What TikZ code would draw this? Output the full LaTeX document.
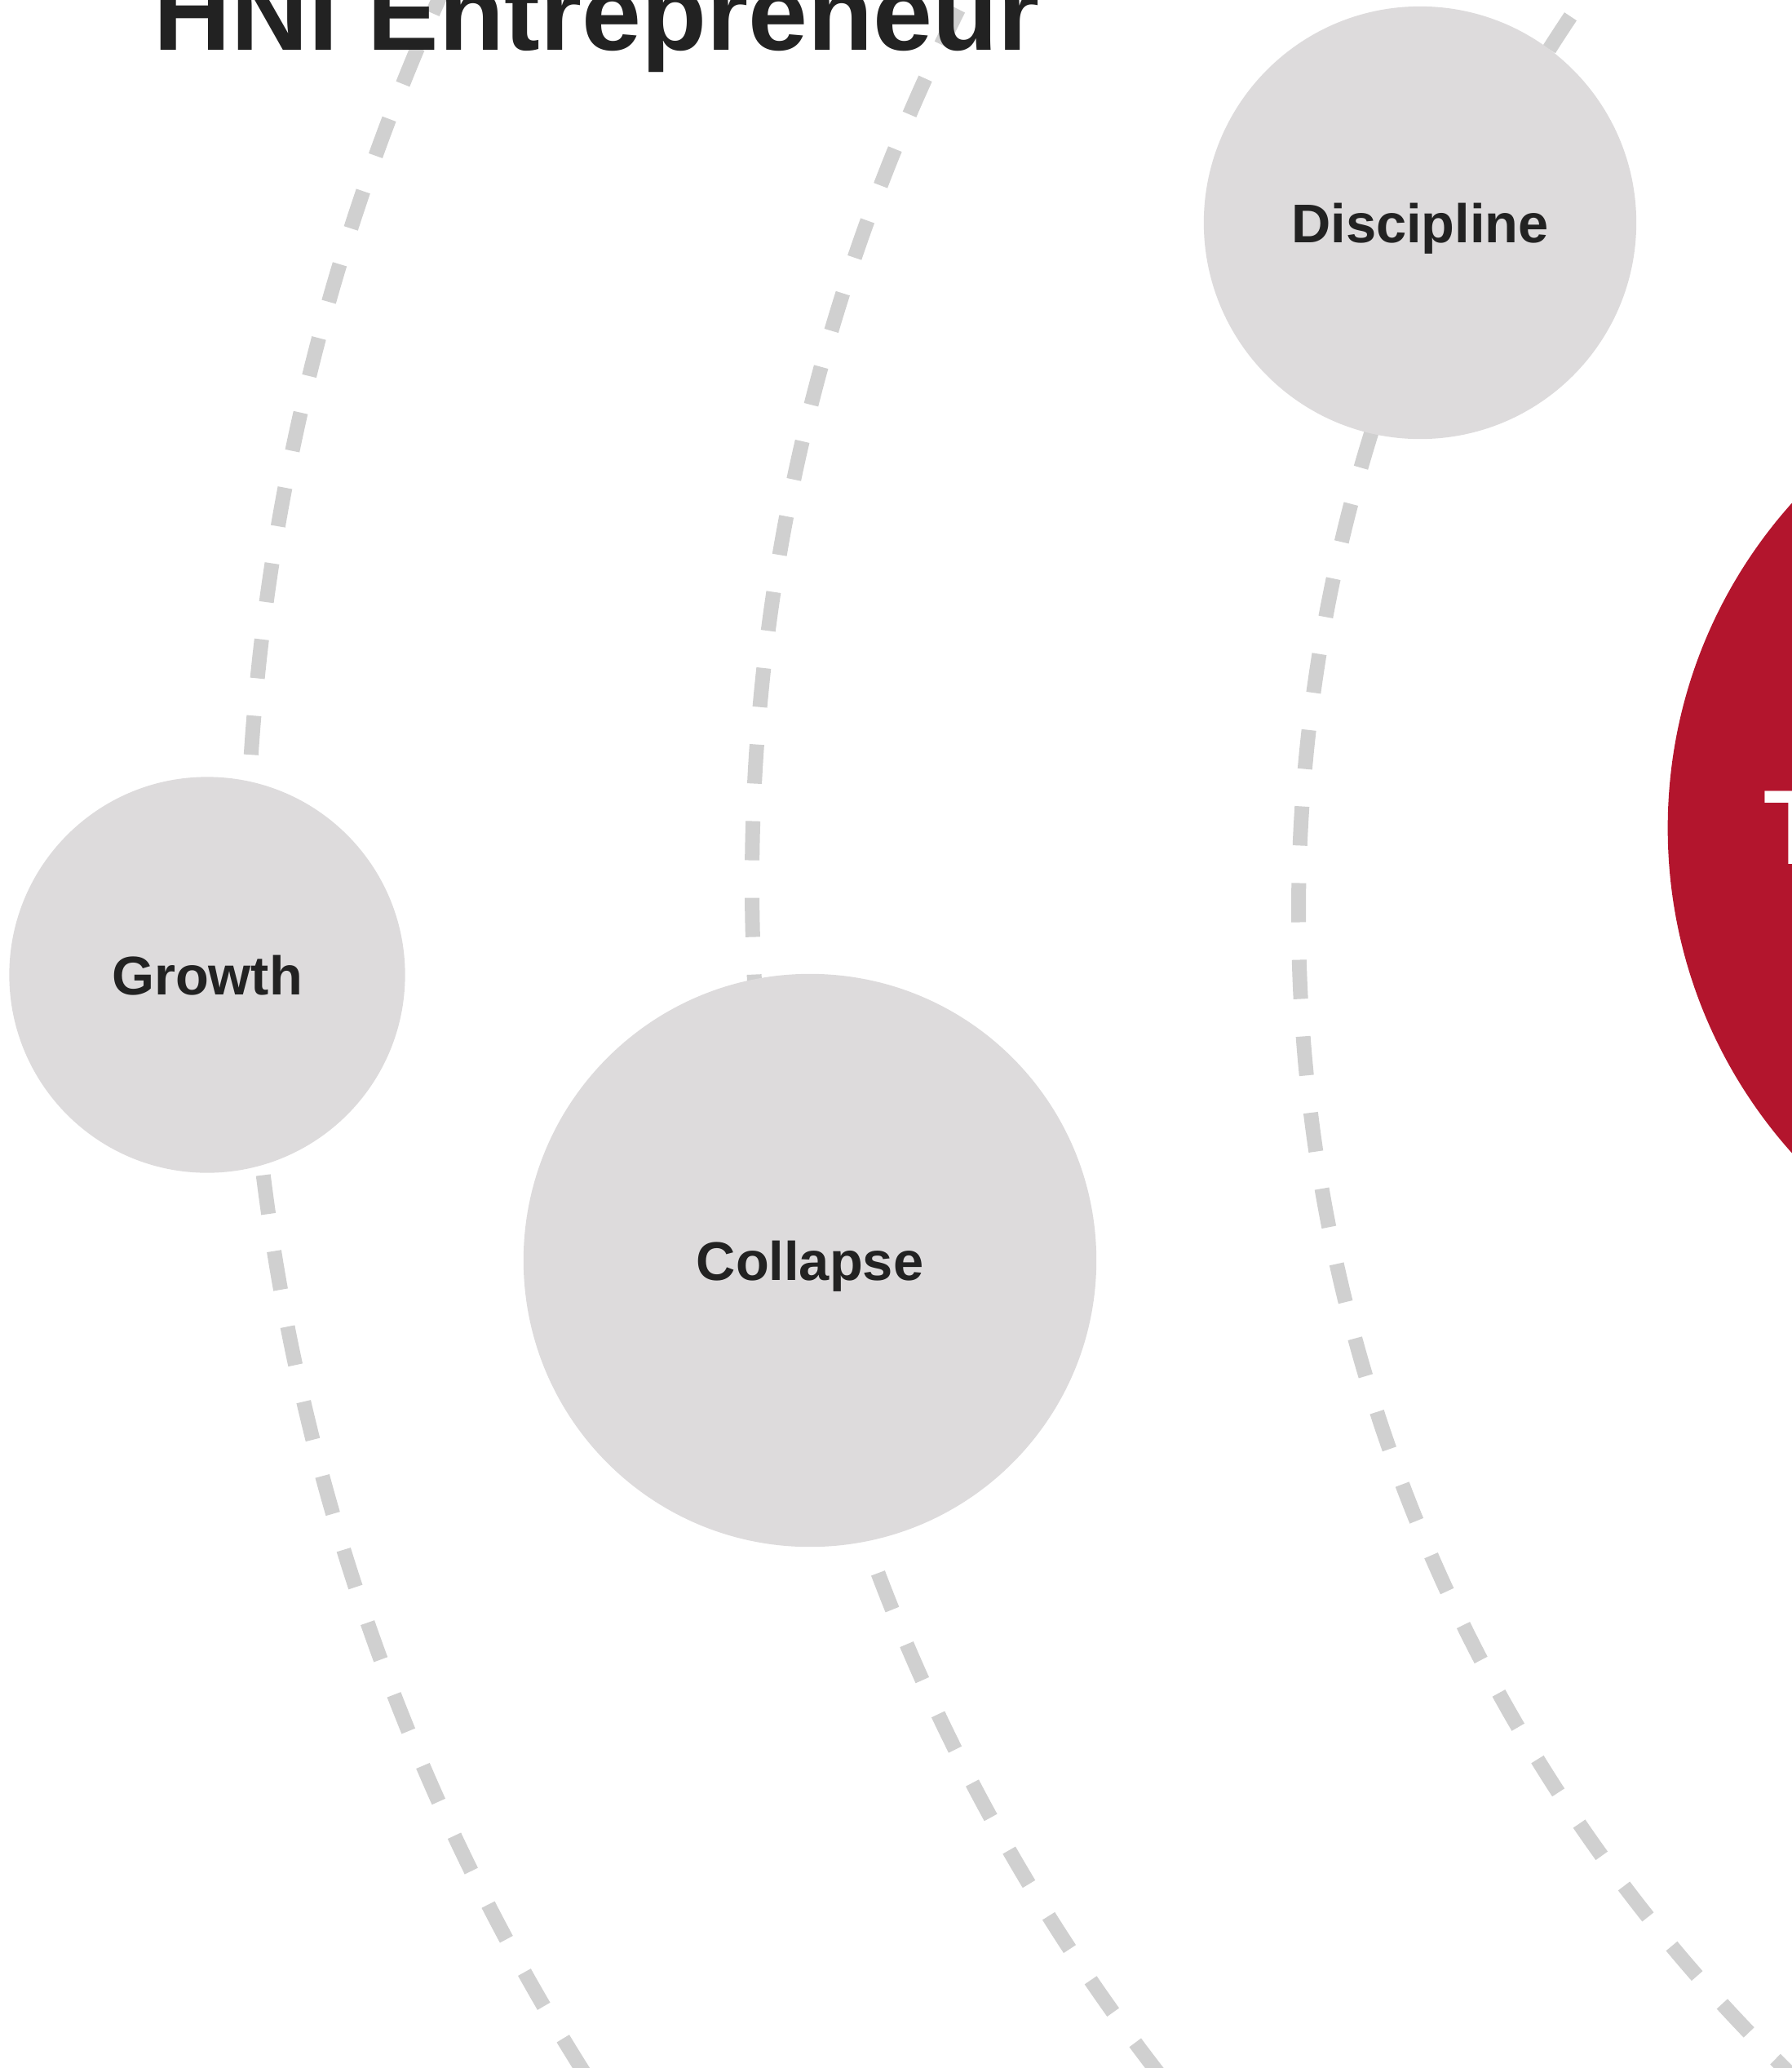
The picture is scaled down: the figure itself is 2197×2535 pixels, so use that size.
\documentclass[tikz,border=0pt]{standalone}
\usepackage{fontspec}
\setmainfont{Liberation Sans}
\usetikzlibrary{positioning}
\definecolor{orbitgray}{HTML}{D0D0D0}
\definecolor{planetgray}{HTML}{DDDBDC}
\definecolor{ink}{HTML}{222222}
\definecolor{corered}{HTML}{B3152D}
\tikzset{
  orbit/.style={draw=orbitgray, line width=0.18cm, dash pattern=on 0.48cm off 0.46cm},
  planet/.style={circle, fill=planetgray, inner sep=0pt, text=ink,
    font=\fontsize{19}{23}\selectfont\bfseries, text height=0.48cm, text depth=0pt},
  big/.style={font=\fontsize{37}{44}\selectfont\bfseries, inner sep=0pt, anchor=base west}}

\begin{document}
\begin{tikzpicture}[x=0.01cm, y=-0.01cm]
\useasboundingbox (0,0) rectangle (2197,2535);
\clip (0,0) rectangle (2197,2535);
% orbit centres
\coordinate (o1) at (2999,1104);
\coordinate (o2) at (3308,1082);
\coordinate (o3) at (3571,1120);
\draw [orbit] (o1) circle [radius=2697];
\draw [orbit] (o2) circle [radius=2386];
\draw [orbit] (o3) circle [radius=1979];
% planets
\node (discipline) [planet, minimum size=5.3cm] at (1741,273) {Discipline};
\node (growth) [planet, minimum size=4.85cm] at (254,1195) {Growth};
\node (collapse) [planet, minimum size=7.02cm] at (993,1545) {Collapse};
\node (core) [circle, fill=corered, inner sep=0pt, minimum size=11.94cm] at (2642,1015) {};
\node (coreT) [big, text=white] at (2162,1059) {T};
\node (title) [big, text=ink, font=\fontsize{37.3}{44}\selectfont\bfseries] at (188,61) {HNI Entrepreneur};
\end{tikzpicture}
\end{document}
